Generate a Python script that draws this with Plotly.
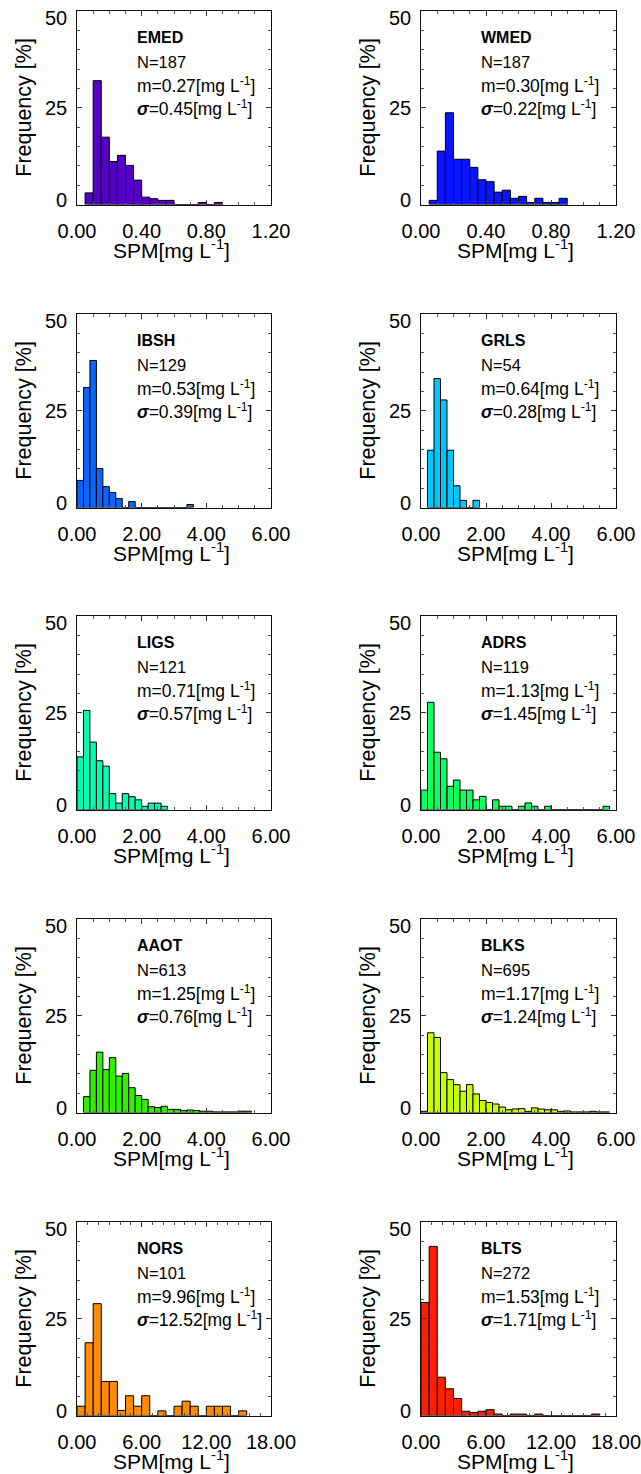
import plotly.graph_objects as go

W, H = 641, 1474

# ---------------- data ----------------
names = ["EMED", "WMED", "IBSH", "GRLS", "LIGS", "ADRS", "AAOT", "BLKS", "NORS", "BLTS"]
n_obs = [187, 187, 129, 54, 121, 119, 613, 695, 101, 272]
mean_spm = ["0.27", "0.30", "0.53", "0.64", "0.71", "1.13", "1.25", "1.17", "9.96", "1.53"]
std_spm = ["0.45", "0.22", "0.39", "0.28", "0.57", "1.45", "0.76", "1.24", "12.52", "1.71"]
colors = ["#5200C4", "#0A14FF", "#0A64FF", "#00C8FF", "#00FFB0",
          "#10FF60", "#30F000", "#C8FF00", "#FF8C00", "#FF1E00"]

x_max = [1.2, 1.2, 6, 6, 6, 6, 6, 6, 18, 18]
x_major = [0.4, 0.4, 2, 2, 2, 2, 2, 2, 6, 6]
x_minor = [0.1, 0.1, 0.5, 0.5, 0.5, 0.5, 0.5, 0.5, 1.0, 1.0]

bin_start = [0.05, 0.05, 0.0, 0.2, 0.0, 0.0, 0.2, 0.0, 0.0, 0.0]
bin_width = [0.05, 0.05, 0.2, 0.2, 0.2, 0.2, 0.2, 0.2, 0.75, 0.75]

freq_emed = [3.0, 32.0, 17.4, 11.1, 12.7, 10.1, 6.3, 1.9, 1.5, 1.07, 1.07, 0, 0, 0, 0.53, 0, 0.53]
freq_wmed = [1.07, 13.8, 23.7, 11.7, 11.7, 9.6, 6.4, 5.9, 3.2, 3.7, 1.6, 2.1, 0.53, 1.6, 0.53, 0.53, 1.6]
freq_ibsh = [7.0, 31.0, 38.0, 10.1, 5.4, 3.9, 2.3, 0, 1.55, 0, 0, 0, 0, 0, 0, 0, 0, 0.78]
freq_grls = [14.8, 33.3, 27.8, 14.8, 5.6, 1.85, 0, 1.85]
freq_ligs = [13.6, 25.6, 17.4, 12.6, 11.2, 4.1, 1.65, 4.1, 3.3, 2.5, 0.83, 1.65, 1.65, 0.83]
freq_adrs = [5.0, 27.7, 14.8, 13.1, 6.0, 7.6, 5.0, 5.0, 2.5, 3.4, 0, 2.5, 0.84, 0.84, 0,
             0.84, 1.7, 0.84, 0, 0.84, 0, 0, 0, 0, 0, 0, 0, 0, 0.84]
freq_aaot = [4.1, 10.9, 15.6, 11.1, 14.2, 9.4, 10.1, 6.4, 4.4, 3.4, 1.5, 1.3, 1.6, 0.8, 0.8,
             0.5, 0.65, 0.5, 0.33, 0.33, 0.16, 0.16, 0.16, 0.16, 0.33, 0.33]
freq_blks = [0.3, 20.6, 19.4, 10.3, 8.5, 7.2, 5.5, 7.2, 4.8, 3.1, 2.6, 2.2, 1.4, 0.7, 0.9,
             1.0, 0.3, 1.2, 0.9, 0.7, 0.7, 0.3, 0.4, 0.15, 0.15, 0.15, 0.3, 0.15, 0.15]
freq_nors = [2.4, 18.8, 28.9, 8.8, 8.8, 1.3, 5.1, 2.4, 5.1, 0, 1.2, 0, 2.4, 3.7, 2.4, 0,
             2.4, 2.4, 2.4, 0, 1.2]
freq_blts = [29.2, 43.7, 9.9, 6.9, 4.4, 1.1, 0.75, 1.1, 1.5, 0.37, 0, 0.37, 0.37, 0, 0.37,
             0, 0, 0, 0, 0, 0, 0.37]

freqs = [freq_emed, freq_wmed, freq_ibsh, freq_grls, freq_ligs,
         freq_adrs, freq_aaot, freq_blks, freq_nors, freq_blts]

y_ticks = [0, 25, 50]

# ---------------- layout geometry (pixels) ----------------
col_left = [77, 421]
col_right = [271, 616]
row_top = [11, 314, 616, 919, 1222]
frame_h = 193.5

FONT = "Liberation Sans, Arial, sans-serif"

fig = go.Figure()
layout = dict(template="none", width=W, height=H,
              margin=dict(l=0, r=0, t=0, b=0, pad=0, autoexpand=False),
              paper_bgcolor="white", plot_bgcolor="white", showlegend=False,
              font=dict(family=FONT, size=20, color="black"))
annotations = []

for i, name in enumerate(names):
    r, c = divmod(i, 2)
    k = "" if i == 0 else str(i + 1)
    xa, ya = "x" + k, "y" + k
    left, right = col_left[c], col_right[c]
    top = row_top[r]
    bottom = top + frame_h

    fr = freqs[i]
    w = bin_width[i]
    centers = [bin_start[i] + w * (j + 0.5) for j in range(len(fr))]
    fig.add_trace(go.Bar(x=centers, y=fr, width=w, xaxis=xa, yaxis=ya,
                         marker=dict(color=colors[i], line=dict(color="black", width=1)),
                         hoverinfo="skip"))

    nmaj = int(round(x_max[i] / x_major[i]))
    tv = [x_major[i] * t for t in range(nmaj + 1)]
    layout["xaxis" + k] = dict(
        domain=[left / W, right / W], anchor=ya, range=[0, x_max[i]],
        tickmode="array", tickvals=tv, ticktext=["%.2f" % v for v in tv],
        ticks="inside", ticklen=5, tickcolor="#333", tickwidth=1,
        minor=dict(ticks="inside", ticklen=3, tickcolor="#555", dtick=x_minor[i], tick0=0),
        showline=True, linecolor="#111", linewidth=1, mirror="ticks",
        showgrid=False, zeroline=False, ticklabelstandoff=8, automargin=False,
        ticklabeloverflow="allow",
        tickfont=dict(size=20, family=FONT, color="black"), fixedrange=True)
    layout["yaxis" + k] = dict(
        domain=[1 - bottom / H, 1 - top / H], anchor=xa, range=[0, 50],
        tickmode="array", tickvals=y_ticks, showticklabels=False,
        ticks="inside", ticklen=5, tickcolor="#333", tickwidth=1,
        minor=dict(ticks="inside", ticklen=3, tickcolor="#555", dtick=5, tick0=0),
        showline=True, linecolor="#111", linewidth=1, mirror="ticks", automargin=False,
        showgrid=False, zeroline=False, fixedrange=True)

    # y tick labels (IDL-style placement)
    for yv, ysh in zip(y_ticks, [5, 0, -7]):
        annotations.append(dict(text=str(yv), xref=xa + " domain", yref=ya, x=0, y=yv,
                                xanchor="right", yanchor="middle", xshift=-8, yshift=ysh,
                                showarrow=False, font=dict(size=20, family=FONT)))
    # axis titles
    annotations.append(dict(text="Frequency [%]", textangle=-90, xref="paper", yref="paper",
                            x=(left - 53) / W, y=1 - (top + frame_h / 2) / H,
                            xanchor="center", yanchor="middle", showarrow=False,
                            font=dict(size=21.5, family=FONT)))
    annotations.append(dict(text="SPM[mg L<sup>-1</sup>]", xref="paper", yref="paper",
                            x=((left + right) / 2 - 3) / W, y=1 - (bottom + 44) / H,
                            xanchor="center", yanchor="middle", showarrow=False,
                            font=dict(size=21, family=FONT)))
    # statistics text
    lines = [("<b>%s</b>" % name, 26, 16),
             ("N=%d" % n_obs[i], 51, 16.5),
             ("m=%s[mg L<sup>-1</sup>]" % mean_spm[i], 74, 17.5),
             ("<b><i>σ</i></b>=%s[mg L<sup>-1</sup>]" % std_spm[i], 97, 17.5)]
    for txt, dy, fs in lines:
        annotations.append(dict(text=txt, xref=xa + " domain", yref=ya + " domain",
                                x=58 / (right - left), y=1 - dy / frame_h,
                                xanchor="left", yanchor="middle", showarrow=False,
                                font=dict(size=fs, family=FONT)))

layout["annotations"] = annotations
fig.update_layout(**layout)
fig.write_html("out.html",
               config={"displayModeBar": False},
               post_script="document.body.style.margin='0px';"
                           "document.body.style.overflow='hidden';")
